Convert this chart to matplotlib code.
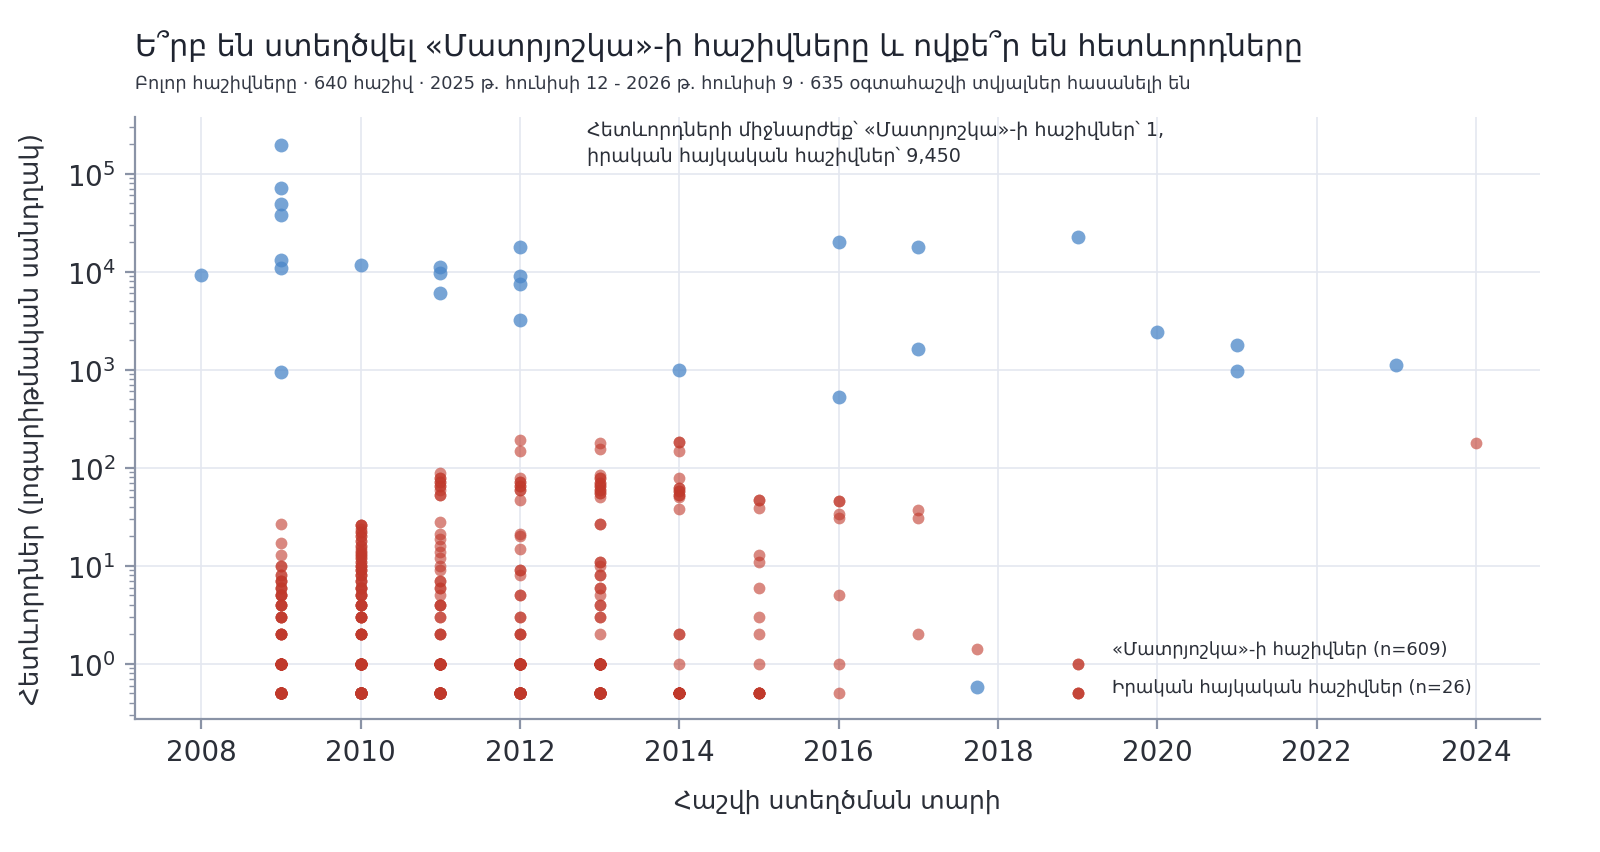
import numpy as np
import matplotlib
matplotlib.use('Agg')
import matplotlib.pyplot as plt

plt.rcParams['font.family'] = ['DejaVu Sans']

# real Armenian accounts: creation year, followers
real_years = [2008, 2009, 2009, 2009, 2009, 2009, 2009, 2009, 2010, 2011, 2011, 2011,
              2012, 2012, 2012, 2012, 2014, 2016, 2016, 2017, 2017, 2019, 2020, 2021,
              2021, 2023]
real_followers = [9200, 196000, 72000, 48500, 37500, 13200, 11000, 950, 11800, 11200,
                  9700, 6100, 17900, 9100, 7400, 3250, 1000, 20000, 532, 17900, 1630,
                  22600, 2430, 1790, 980, 1120]

# "Matryoshka" accounts per creation year: (followers, number of accounts)
mat_2009 = [(27, 1), (17, 1), (13, 1), (10, 2), (8, 2), (7, 3), (6, 3), (5, 4), (4, 4),
            (3, 4), (2, 5), (1, 27), (0, 40)]
mat_2010 = [(26, 3), (24, 1), (22, 2), (20, 2), (18, 2), (16, 2), (15, 1), (14, 2),
            (13, 2), (12, 2), (11, 2), (10, 3), (9, 3), (8, 3), (7, 3), (6, 4), (5, 4),
            (4, 5), (3, 5), (2, 6), (1, 34), (0, 55)]
mat_2011 = [(88, 1), (78, 2), (72, 2), (65, 2), (60, 1), (53, 2), (28, 1), (21, 1),
            (19, 1), (16, 1), (14, 1), (12, 1), (10, 1), (9, 1), (7, 2), (6, 2), (5, 1),
            (4, 3), (3, 2), (2, 3), (1, 28), (0, 44)]
mat_2012 = [(190, 1), (150, 1), (78, 1), (72, 2), (65, 2), (60, 2), (47, 1), (21, 1),
            (20, 1), (15, 1), (9, 2), (8, 1), (5, 2), (3, 2), (2, 3), (1, 30), (0, 48)]
mat_2013 = [(180, 1), (155, 1), (85, 1), (78, 2), (70, 2), (65, 2), (60, 2), (55, 2),
            (50, 1), (27, 2), (11, 2), (10, 1), (8, 2), (6, 2), (5, 1), (4, 2), (3, 2),
            (2, 1), (1, 24), (0, 44)]
mat_2014 = [(185, 2), (148, 1), (78, 1), (62, 2), (58, 2), (53, 2), (50, 1), (38, 1),
            (2, 2), (1, 1), (0, 18)]
mat_2015 = [(47, 2), (39, 1), (13, 1), (11, 1), (6, 1), (3, 1), (2, 1), (1, 1), (0, 7)]
mat_2016 = [(46, 2), (34, 1), (31, 1), (5, 1), (1, 1), (0, 1)]
mat_2017 = [(37, 1), (31, 1), (2, 1)]
mat_2019 = [(1, 2), (0, 3)]
mat_2024 = [(180, 1)]

mat_by_year = [(2009, mat_2009), (2010, mat_2010), (2011, mat_2011), (2012, mat_2012),
               (2013, mat_2013), (2014, mat_2014), (2015, mat_2015), (2016, mat_2016),
               (2017, mat_2017), (2019, mat_2019), (2024, mat_2024)]

mat_years = []
mat_followers = []
for year, rows in mat_by_year:
    for f, n in rows:
        mat_years += [year] * n
        mat_followers += [f] * n
mat_years = np.array(mat_years)
mat_followers = np.array(mat_followers, dtype=float)
mat_followers[mat_followers == 0] = 0.5   # zero followers drawn at 0.5 on log scale

title = "Ե՞րբ են ստեղծվել «Մատրյոշկա»-ի հաշիվները և ովքե՞ր են հետևորդները"
subtitle = ("Բոլոր հաշիվները · 640 հաշիվ · 2025 թ. հունիսի 12 - 2026 թ. հունիսի 9 · "
            "635 օգտահաշվի տվյալներ հասանելի են")
note = ("Հետևորդների միջնարժեք՝ «Մատրյոշկա»-ի հաշիվներ՝ 1,\n"
        "իրական հայկական հաշիվներ՝ 9,450")
lab_mat = "«Մատրյոշկա»-ի հաշիվներ (n=%d)" % len(mat_years)
lab_real = "Իրական հայկական հաշիվներ (n=%d)" % len(real_years)

red = '#c0392b'
blue = '#4a86c8'
spine_col = '#8a93a6'
grid_col = '#e4e7f0'
text_col = '#2b2f38'

fig = plt.figure(figsize=(8, 4.265), dpi=200)
ax = fig.add_axes([0.0844, 0.156, 0.878, 0.706])

ax.scatter(real_years, real_followers, s=25, color=blue, alpha=0.75, linewidths=0,
           label=lab_real, zorder=3)
ax.scatter(mat_years, mat_followers, s=18, color=red, alpha=0.6, linewidths=0,
           label=lab_mat, zorder=3)

ax.set_yscale('log')
ax.set_xlim(2007.17, 2024.8)
ax.set_ylim(0.275, 380000)
ax.set_xticks(range(2008, 2025, 2))
ax.grid(True, color=grid_col, linewidth=0.6, zorder=0)
ax.set_axisbelow(True)

for s in ['top', 'right']:
    ax.spines[s].set_visible(False)
for s in ['left', 'bottom']:
    ax.spines[s].set_color(spine_col)
    ax.spines[s].set_linewidth(0.8)
ax.tick_params(axis='both', colors=spine_col, labelcolor=text_col, labelsize=10,
               width=0.8, length=3.5)
ax.tick_params(axis='y', which='minor', colors=spine_col, width=0.5, length=2)

ax.set_xlabel("Հաշվի ստեղծման տարի", fontsize=9, color=text_col, labelpad=8)
ax.set_ylabel("Հետևորդներ (լոգարիթմական սանդղակ)", fontsize=9.4, color=text_col,
              labelpad=8)

ax.text(0.322, 0.995, note, transform=ax.transAxes, fontsize=6.9, color=text_col,
        va='top', ha='left', linespacing=1.45)

h, l = ax.get_legend_handles_labels()
leg = ax.legend([h[1], h[0]], [l[1], l[0]], loc='center left',
                bbox_to_anchor=(0.575, 0.085), frameon=False, fontsize=6.5,
                handletextpad=6.45, labelspacing=1.1, scatterpoints=1)
for t in leg.get_texts():
    t.set_color(text_col)

fig.text(0.0844, 0.945, title, fontsize=10.8, color='#1f2430', va='center', ha='left')
fig.text(0.0844, 0.901, subtitle, fontsize=6.4, color='#333844', va='center', ha='left')

fig.savefig('out.png', dpi=200, facecolor='white')
